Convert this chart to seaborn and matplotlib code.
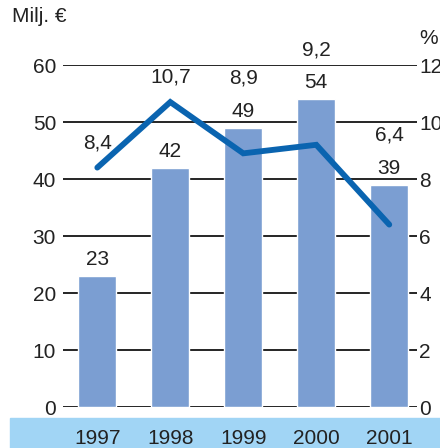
import numpy as np
import matplotlib
matplotlib.use('Agg')
import matplotlib.pyplot as plt
import seaborn as sns
from matplotlib.patches import Rectangle

years = ['1997', '1998', '1999', '2000', '2001']
profit = [23, 42, 49, 54, 39]          # Milj. €
margin = [8.4, 10.7, 8.9, 9.2, 6.4]   # %

sns.set_style('white')
plt.rcParams['font.family'] = ['Liberation Sans', 'DejaVu Sans']
FS = 15
txt_col = '#222222'
bar_col = '#7b9ed2'
line_col = '#0a64b0'

fig = plt.figure(figsize=(4.4, 4.48), dpi=100)
# light blue strip behind the year labels (below the axes)
fig.patches.append(Rectangle((10 / 440, 0), 1, 30 / 448, transform=fig.transFigure,
                             color='#a1d5f5', zorder=-5))
ax = fig.add_axes([63 / 440, 41 / 448, 354 / 440, 342 / 448])
ax.patch.set_alpha(0)

sns.barplot(x=years, y=profit, color=bar_col, width=0.52, saturation=1, ax=ax, zorder=3)
ax.set_ylim(0, 60)
ax.set_yticks(range(0, 61, 10))
for v in range(0, 61, 10):
    ax.axhline(v, color='black', lw=1.2, zorder=1)
for s in ax.spines.values():
    s.set_visible(False)
ax.set_xlabel('')
ax.set_ylabel('')

ax2 = ax.twinx()
ax2.set_position(ax.get_position())
sns.lineplot(x=np.arange(len(margin)), y=margin, ax=ax2, color=line_col, lw=4.2,
             zorder=4)
ax2.lines[0].set_solid_joinstyle('miter')
ax2.set_ylim(0, 12)
ax2.set_yticks(range(0, 13, 2))
for s in ax2.spines.values():
    s.set_visible(False)
ax2.tick_params(axis='y', length=0, pad=1.5, labelsize=FS, labelcolor=txt_col)
ax2.set_ylabel('')

# x ticks after the twin so the category labels stay
ax.set_xticks(range(len(years)))
ax.set_xticklabels(years)
ax.set_xlim(-0.47, 4.38)
ax.tick_params(axis='y', length=0, pad=5, labelsize=FS, labelcolor=txt_col)
ax.tick_params(axis='x', length=0, pad=16, labelsize=FS, labelcolor=txt_col,
               labelbottom=True)

# value labels
for i, (b, m) in enumerate(zip(profit, margin)):
    ax.text(i, b + 2.9, str(b), ha='center', va='center', fontsize=FS, color=txt_col,
            zorder=5)
    ly = max(m * 5 + 4.4, b + 8.7)
    ax.text(i, ly, f'{m:.1f}'.replace('.', ','), ha='center', va='center', fontsize=FS,
            color=txt_col, zorder=5)

fig.text(12 / 440, 1 - 17 / 448, 'Milj. €', ha='left', va='center', fontsize=FS,
         color=txt_col)
fig.text(438 / 440, 1 - 38 / 448, '%', ha='right', va='center', fontsize=FS,
         color=txt_col)

fig.savefig('out.png', dpi=100)
